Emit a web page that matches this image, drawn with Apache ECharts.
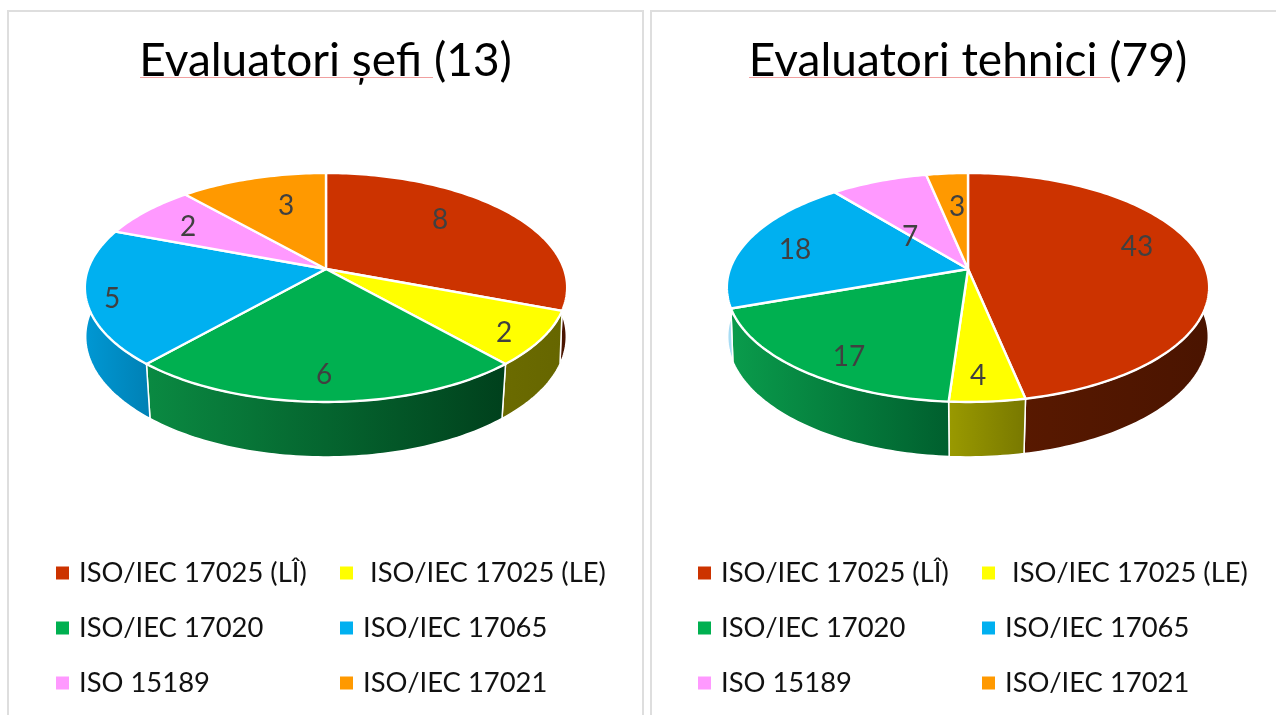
<!DOCTYPE html>
<html><head><meta charset="utf-8">
<style>html,body{margin:0;padding:0;background:#fff}#c{width:1276px;height:715px}</style>
<script src="https://cdn.jsdelivr.net/npm/echarts@6/dist/echarts.min.js"></script>
</head><body><div id="c"></div>
<script>
const categories = ['ISO/IEC 17025 (LÎ)', ' ISO/IEC 17025 (LE)', 'ISO/IEC 17020', 'ISO/IEC 17065', 'ISO 15189', 'ISO/IEC 17021'];
const titles = ['Evaluatori șefi (13)', 'Evaluatori tehnici (79)'];
const valuesSefi = [8, 2, 6, 5, 2, 3];
const valuesTehnici = [43, 4, 17, 18, 7, 3];
const colors = ['#CC3300', '#FFFF00', '#00B050', '#00B0F0', '#FF99FF', '#FF9900'];

// presentation only
const FONT = 'Lato';
const wallsSefi = [['#5a1a00','#4a1400'],['#6b6b00','#666600'],['#0a8a42','#00401c'],['#0098d4','#0080b4'],['#0098d4','#0080b4'],['#a06000','#a06000']];
const wallsTehnici = [['#5c1a00','#4a1400'],['#9a9a00','#787800'],['#0a9c4c','#005f2e'],['#a8dcf4','#a8dcf4'],['#a06000','#a06000'],['#a06000','#a06000']];
const labelOffsetSefi = [[114,-49],[178,64],[-2,106],[-214,30],[-138,-42],[-40,-63]];
const labelOffsetTehnici = [[169,-22],[10,107],[-119,88],[-173,-19],[-58,-32],[-11,-62]];
const PIE = {a:238, b:111.5, k:0.1616, cy:269, aBottom:238, bBottom:118, kBottom:0.138, cyBottom:320};
const panels = [
  {cx:326, values:valuesSefi, walls:wallsSefi, off:labelOffsetSefi, lx:[56,340], tx:325.5, ul:[140,433]},
  {cx:968, values:valuesTehnici, walls:wallsTehnici, off:labelOffsetTehnici, lx:[698,982], tx:968, ul:[749,1110]}
];

function project(cx, cy, a, b, k, t) {
  const u = Math.sin(t), v = -Math.cos(t), d = 1 - k * v;
  return [cx + a * u / d, cy + b * v / d];
}
function arc(cx, cy, a, b, k, t0, t1) {
  const n = Math.max(2, Math.ceil((t1 - t0) / 0.02)), pts = [];
  for (let i = 0; i <= n; i++) pts.push(project(cx, cy, a, b, k, t0 + (t1 - t0) * i / n));
  return pts;
}
function sliceSeries(panel, i) {
  const total = panel.values.reduce((s, x) => s + x, 0);
  const before = panel.values.slice(0, i).reduce((s, x) => s + x, 0);
  return {
    type: 'custom', name: categories[i], coordinateSystem: 'none',
    itemStyle: {color: colors[i]}, silent: true,
    data: [[panel.values[i]]],
    renderItem(params, api) {
      const v = api.value(0);
      const t0 = before / total * 2 * Math.PI, t1 = (before + v) / total * 2 * Math.PI;
      const top = arc(panel.cx, PIE.cy, PIE.a, PIE.b, PIE.k, t0, t1);
      const bot = arc(panel.cx, PIE.cyBottom, PIE.aBottom, PIE.bBottom, PIE.kBottom, t0, t1).reverse();
      const wc = panel.walls[i];
      return {type: 'group', children: [
        {type: 'polygon', z2: 1, shape: {points: top.concat(bot)},
          style: {fill: {type:'linear',x:0,y:0,x2:1,y2:0,colorStops:[{offset:0,color:wc[0]},{offset:1,color:wc[1]}]}, stroke:'#fff', lineWidth:1.5}},
        {type: 'polygon', z2: 10, shape: {points: [[panel.cx, PIE.cy]].concat(top)},
          style: {fill: colors[i], stroke:'#fff', lineWidth:2.4, lineJoin:'round'}},
        {type: 'text', z2: 20, style: {text: String(v), x: panel.cx + panel.off[i][0], y: PIE.cy + panel.off[i][1],
          fill:'#404040', font:'28px ' + FONT, align:'center', verticalAlign:'middle'}}
      ]};
    }
  };
}
function legends(panel) {
  return [0, 1].map(col => ({
    left: panel.lx[col], top: 559, orient: 'vertical', padding: 0, itemGap: 27,
    itemWidth: 13, itemHeight: 13, icon: 'rect', selectedMode: false,
    data: categories.filter((c, i) => i % 2 === col),
    textStyle: {fontFamily: FONT, fontSize: 27.4, color: '#111', height: 28, lineHeight: 28, padding: [0,0,0,5]}
  }));
}
const option = {
  animation: false, backgroundColor: '#fff',
  title: panels.map((p, i) => ({text: titles[i], left: p.tx, top: 38, textAlign: 'center', padding: 0,
    textStyle: {fontFamily: FONT, fontSize: 46, fontWeight: 'normal', color: '#000'}})),
  legend: panels.flatMap(legends),
  graphic: [
    {type:'polyline', silent:true, shape:{points:[[8,715],[8,11],[643,11],[643,715]]}, style:{fill:'none',stroke:'#dedede',lineWidth:2}},
    {type:'polyline', silent:true, shape:{points:[[651,715],[651,11],[1276,11]]}, style:{fill:'none',stroke:'#dedede',lineWidth:2}},
    {type:'line', silent:true, z:10, shape:{x1:panels[0].ul[0],y1:77.5,x2:panels[0].ul[1],y2:77.5}, style:{stroke:'#f0a0a0',lineWidth:1}},
    {type:'line', silent:true, z:10, shape:{x1:panels[1].ul[0],y1:77.5,x2:panels[1].ul[1],y2:77.5}, style:{stroke:'#f0a0a0',lineWidth:1}}
  ],
  series: panels.flatMap(p => categories.map((c, i) => sliceSeries(p, i)))
};
echarts.init(document.getElementById('c'), null, {renderer:'canvas'}).setOption(option);
</script></body></html>
